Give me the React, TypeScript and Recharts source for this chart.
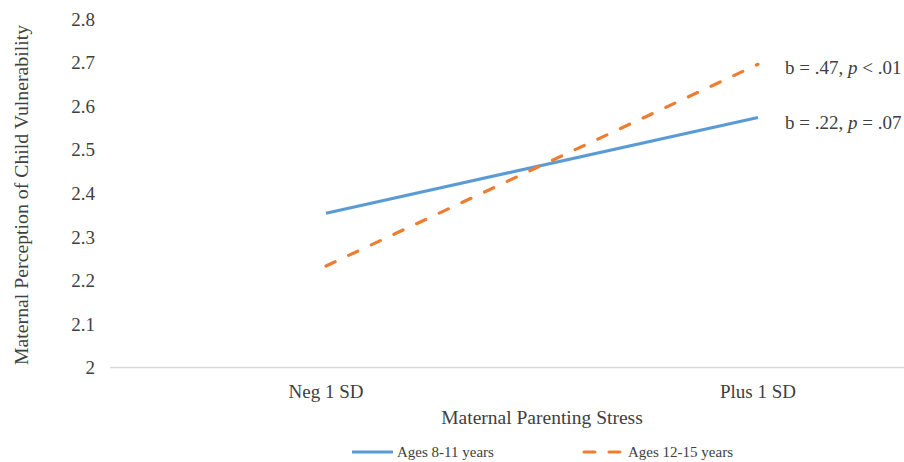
import React from "react";
import { LineChart, Line, XAxis, YAxis, Legend, Label } from "recharts";

// simple slopes plot: parenting stress x child age group
const categories = ["Neg 1 SD", "Plus 1 SD"];
const ages8to11 = [2.354, 2.574];
const ages12to15 = [2.233, 2.696];
const yTicks = [2, 2.1, 2.2, 2.3, 2.4, 2.5, 2.6, 2.7, 2.8];
const seriesNames = ["Ages 8-11 years", "Ages 12-15 years"];
const slopeB = [".22", ".47"];
const slopeP = ["= .07", "< .01"];

const BLUE = "#5B9BD5";
const ORANGE = "#ED7D31";
const TEXT = "#404040";
const FONT = '"Liberation Serif", "Times New Roman", serif';

const data = categories.map((cat, i) => ({
  cat,
  young: ages8to11[i],
  older: ages12to15[i],
}));

// slope note drawn only next to the last point of a series
const slopeNote = (seriesIdx: number, dy: number) => (props: any) => {
  const { x, y, index } = props;
  if (index !== categories.length - 1) return <g key={`n${index}`} />;
  return (
    <text
      key={`n${index}`}
      x={x + 27}
      y={y + dy}
      dominantBaseline="central"
      fontFamily={FONT}
      fontSize={19}
      fill={TEXT}
    >
      b = {slopeB[seriesIdx]}, <tspan fontStyle="italic">p</tspan> {slopeP[seriesIdx]}
    </text>
  );
};

const renderLegend = () => (
  <svg width={904} height={20} style={{ display: "block" }}>
    <line x1={352} y1={10} x2={393} y2={10} stroke={BLUE} strokeWidth={3} />
    <text x={397} y={15} fontFamily={FONT} fontSize={15} fill={TEXT}>
      {seriesNames[0]}
    </text>
    <line
      x1={584}
      y1={10}
      x2={620}
      y2={10}
      stroke={ORANGE}
      strokeWidth={3}
      strokeDasharray="11 14"
      strokeLinecap="round"
    />
    <text x={628} y={15} fontFamily={FONT} fontSize={15} fill={TEXT}>
      {seriesNames[1]}
    </text>
  </svg>
);

export default function App() {
  return (
    <div
      style={{
        position: "absolute",
        left: 0,
        top: 0,
        width: 904,
        height: 462,
        overflow: "hidden",
        background: "#fff",
      }}
    >
      <LineChart
        width={980}
        height={462}
        data={data}
        margin={{ top: 19, right: 6, bottom: 0, left: 0 }}
      >
        <XAxis
          dataKey="cat"
          padding={{ left: 216, right: 216 }}
          height={74.5}
          tickLine={false}
          tickSize={0}
          tickMargin={17}
          axisLine={{ stroke: "#d9d9d9", strokeWidth: 1.5 }}
          tick={{ fontSize: 19, fill: TEXT, fontFamily: FONT }}
        >
          <Label
            content={() => (
              <text
                x={542}
                y={424}
                textAnchor="middle"
                fontFamily={FONT}
                fontSize={19.5}
                fill={TEXT}
              >
                Maternal Parenting Stress
              </text>
            )}
          />
        </XAxis>
        <YAxis
          width={110}
          domain={[2, 2.8]}
          ticks={yTicks}
          interval={0}
          axisLine={false}
          tickLine={false}
          tickSize={0}
          tickMargin={15}
          tickFormatter={(v: number) => (v === 2 ? "2" : v.toFixed(1))}
          tick={{ fontSize: 19, fill: TEXT, fontFamily: FONT }}
        >
          <Label
            content={() => (
              <text
                x={21}
                y={195}
                transform="rotate(-90 21 195)"
                textAnchor="middle"
                dominantBaseline="central"
                fontFamily={FONT}
                fontSize={19.8}
                fill={TEXT}
              >
                Maternal Perception of Child Vulnerability
              </text>
            )}
          />
        </YAxis>
        <Legend verticalAlign="bottom" height={20} content={renderLegend} />
        <Line
          dataKey="young"
          name={seriesNames[0]}
          stroke={BLUE}
          strokeWidth={3.2}
          dot={false}
          activeDot={false}
          isAnimationActive={false}
          label={slopeNote(0, 5)}
        />
        <Line
          dataKey="older"
          name={seriesNames[1]}
          stroke={ORANGE}
          strokeWidth={3.2}
          strokeDasharray="10 15"
          strokeLinecap="round"
          dot={false}
          activeDot={false}
          isAnimationActive={false}
          label={slopeNote(1, 3)}
        />
      </LineChart>
    </div>
  );
}
